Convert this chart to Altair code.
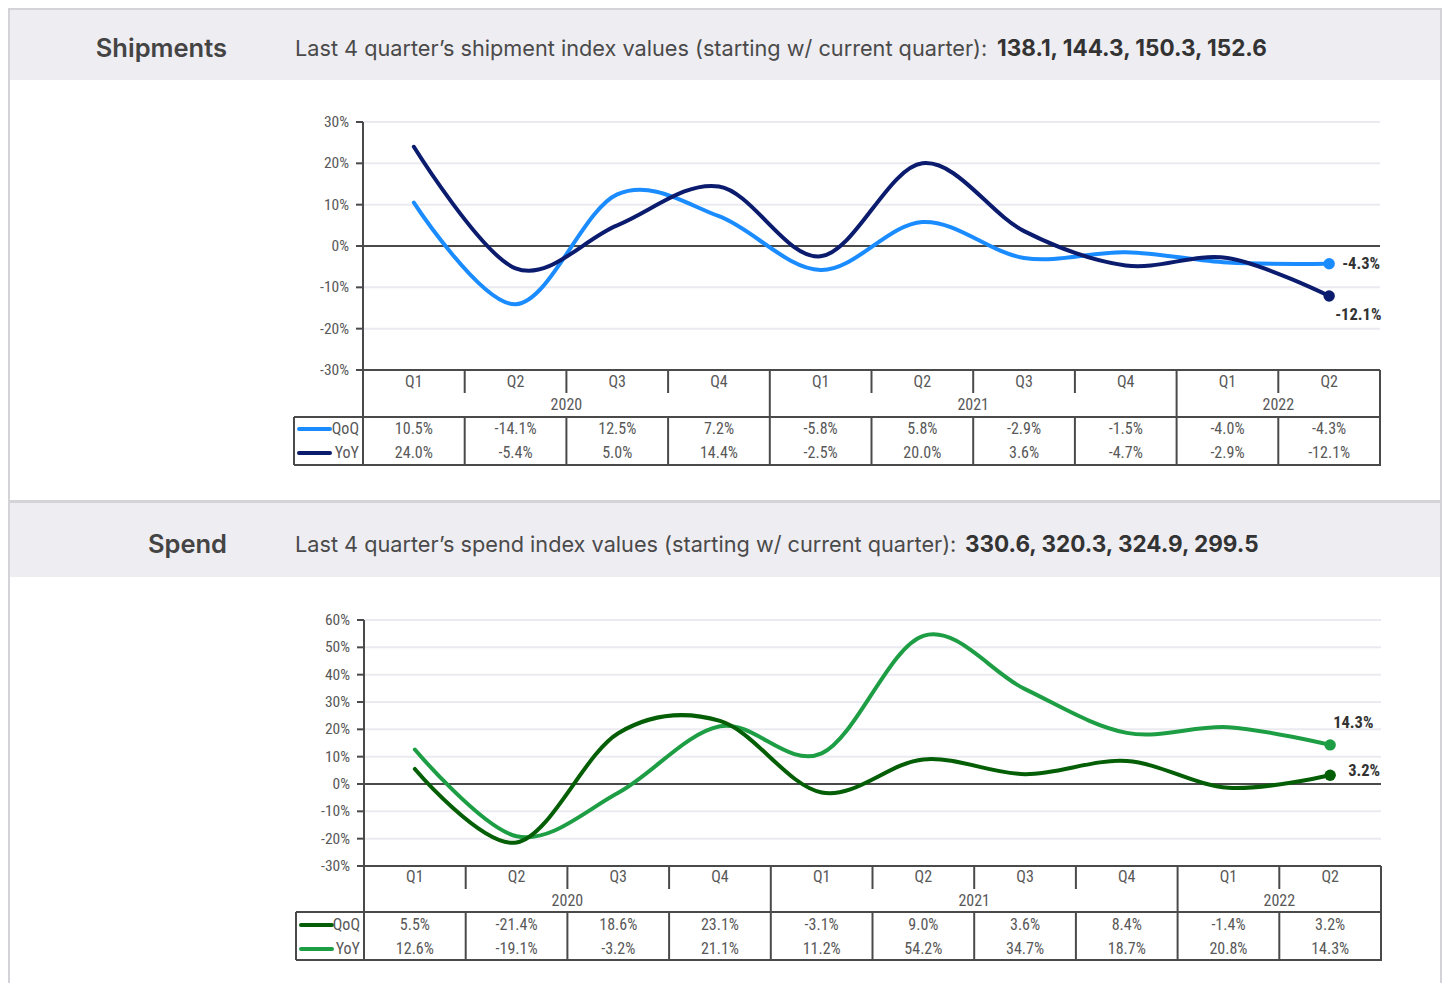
import altair as alt
import pandas as pd

# ---------------- data ----------------
quarters = ["Q1", "Q2", "Q3", "Q4", "Q1", "Q2", "Q3", "Q4", "Q1", "Q2"]
years = ["2020", "2020", "2020", "2020", "2021", "2021", "2021", "2021", "2022", "2022"]

ship_qoq = [10.5, -14.1, 12.5, 7.2, -5.8, 5.8, -2.9, -1.5, -4.0, -4.3]
ship_yoy = [24.0, -5.4, 5.0, 14.4, -2.5, 20.0, 3.6, -4.7, -2.9, -12.1]
spend_qoq = [5.5, -21.4, 18.6, 23.1, -3.1, 9.0, 3.6, 8.4, -1.4, 3.2]
spend_yoy = [12.6, -19.1, -3.2, 21.1, 11.2, 54.2, 34.7, 18.7, 20.8, 14.3]

ship_ticks = [-30, -20, -10, 0, 10, 20, 30]
spend_ticks = [-30, -20, -10, 0, 10, 20, 30, 40, 50, 60]

ship_title = "Shipments"
ship_sub = "Last 4 quarter\u2019s shipment index values (starting w/ current quarter): "
ship_bold = "138.1, 144.3, 150.3, 152.6"
spend_title = "Spend"
spend_sub = "Last 4 quarter\u2019s spend index values (starting w/ current quarter): "
spend_bold = "330.6, 320.3, 324.9, 299.5"

series_names = ["QoQ", "YoY"]

# ---------------- style ----------------
W = 1434
FONT_HEAD = "Inter, Lato, 'Open Sans', sans-serif"
FONT_NUM = "'Liberation Sans Narrow', 'Roboto Condensed', 'DejaVu Sans Condensed', 'Arial Narrow', sans-serif"
GRID = "#EBEAF0"
DARK = "#4a4a4a"
BAND = "#EEEDF2"
BORDER = "#D4D4D8"
TXT = "#585858"

one = pd.DataFrame({"a": [0]})


def vrect(x, x2, y, y2, color):
    return alt.Chart(one).mark_rect(color=color).encode(
        x=alt.value(x), x2=alt.value(x2), y=alt.value(y), y2=alt.value(y2))


def hline(x, x2, y, color=DARK, w=2):
    return alt.Chart(one).mark_rule(color=color, strokeWidth=w).encode(
        x=alt.value(x), x2=alt.value(x2), y=alt.value(y))


def section(title, sub, bold, qoq, yoy, ticks, c_qoq, c_yoy, g, lab):
    df = pd.DataFrame({
        "idx": list(range(len(quarters))),
        "q": quarters,
        "year": years,
        "qoq": qoq,
        "yoy": yoy,
        "qoq_lbl": [f"{v:.1f}%" for v in qoq],
        "yoy_lbl": [f"{v:.1f}%" for v in yoy],
    })
    last = df.tail(1)
    xs = alt.Scale(domain=[-0.5, len(quarters) - 0.5], range=[g["x0"], g["x1"]])
    ys = alt.Scale(domain=[min(ticks), max(ticks)], range=[g["y_bot"], g["y_top"]])

    tdf = pd.DataFrame({"t": ticks, "tl": [f"{t}%" for t in ticks]})
    grid_df = tdf[(tdf.t != 0) & (tdf.t != min(ticks))]
    dark_df = tdf[(tdf.t == 0) | (tdf.t == min(ticks))]

    b_rows = []
    for i in range(len(quarters) + 1):
        if i == 0 or i == len(quarters):
            kind = "edge"
        elif years[i] != years[i - 1]:
            kind = "year"
        else:
            kind = "q"
        b_rows.append({"b": i - 0.5, "kind": kind})
    bdf = pd.DataFrame(b_rows)
    bq = bdf[bdf.kind == "q"]
    bfull = bdf[bdf.kind != "q"]

    ydf = df.groupby("year", as_index=False)["idx"].mean()

    layers = []
    layers.append(vrect(0, W, 0, g["H"], "white"))
    layers.append(vrect(0, W, g["band"][0], g["band"][1], BAND))
    layers.append(vrect(0, W, g["top"][0], g["top"][1], BORDER))
    layers.append(vrect(0, 2, 0, g["H"], BORDER))
    layers.append(vrect(W - 2, W, 0, g["H"], BORDER))

    # header texts
    layers.append(alt.Chart(one).mark_text(
        align="right", baseline="middle", font=FONT_HEAD, fontSize=25.5,
        fontWeight=600, color="#444444").encode(
        x=alt.value(g["title_x"]), y=alt.value(g["head_y"]), text=alt.value(title)))
    layers.append(alt.Chart(one).mark_text(
        align="left", baseline="middle", font=FONT_HEAD, fontSize=21.7,
        fontWeight=400, color="#4a4a4a").encode(
        x=alt.value(g["sub_x"]), y=alt.value(g["head_y"]), text=alt.value(sub)))
    layers.append(alt.Chart(one).mark_text(
        align="left", baseline="middle", font=FONT_HEAD, fontSize=22.5,
        fontWeight=700, color="#333333").encode(
        x=alt.value(g["bold_x"]), y=alt.value(g["head_y"]), text=alt.value(bold)))

    # grid + axis
    layers.append(alt.Chart(grid_df).mark_rule(color=GRID, strokeWidth=2).encode(
        y=alt.Y("t:Q", scale=ys, axis=None),
        x=alt.value(g["x0"]), x2=alt.value(g["x1"])))
    layers.append(alt.Chart(dark_df).mark_rule(color=DARK, strokeWidth=2).encode(
        y=alt.Y("t:Q", scale=ys, axis=None),
        x=alt.value(g["x0"]), x2=alt.value(g["x1"])))
    layers.append(alt.Chart(tdf).mark_rule(color=DARK, strokeWidth=2).encode(
        y=alt.Y("t:Q", scale=ys, axis=None),
        x=alt.value(g["x0"] - 7), x2=alt.value(g["x0"])))
    layers.append(alt.Chart(tdf).mark_text(
        align="right", baseline="middle", font=FONT_NUM, fontSize=15.5, color=TXT).encode(
        y=alt.Y("t:Q", scale=ys, axis=None),
        x=alt.value(g["x0"] - 14), text="tl:N"))
    layers.append(alt.Chart(one).mark_rule(color=DARK, strokeWidth=2).encode(
        x=alt.value(g["x0"]), y=alt.value(g["y_top"]), y2=alt.value(g["dt_bot"])))

    # table lines
    layers.append(alt.Chart(bq).mark_rule(color=DARK, strokeWidth=2).encode(
        x=alt.X("b:Q", scale=xs, axis=None),
        y=alt.value(g["y_bot"]), y2=alt.value(g["tick_bot"])))
    layers.append(alt.Chart(bq).mark_rule(color=DARK, strokeWidth=2).encode(
        x=alt.X("b:Q", scale=xs, axis=None),
        y=alt.value(g["xt_bot"]), y2=alt.value(g["dt_bot"])))
    layers.append(alt.Chart(bfull).mark_rule(color=DARK, strokeWidth=2).encode(
        x=alt.X("b:Q", scale=xs, axis=None),
        y=alt.value(g["y_bot"]), y2=alt.value(g["dt_bot"])))
    layers.append(hline(g["leg_left"], g["x1"] + 1, g["xt_bot"]))
    layers.append(hline(g["leg_left"], g["x1"] + 1, g["dt_bot"]))
    layers.append(alt.Chart(one).mark_rule(color=DARK, strokeWidth=2).encode(
        x=alt.value(g["leg_left"]), y=alt.value(g["xt_bot"]), y2=alt.value(g["dt_bot"])))

    # table texts
    txt = dict(align="center", baseline="middle", font=FONT_NUM, fontSize=16, color=TXT)
    layers.append(alt.Chart(df).mark_text(**txt).encode(
        x=alt.X("idx:Q", scale=xs, axis=None), y=alt.value(g["q_y"]), text="q:N"))
    layers.append(alt.Chart(ydf).mark_text(**txt).encode(
        x=alt.X("idx:Q", scale=xs, axis=None), y=alt.value(g["yr_y"]), text="year:N"))
    layers.append(alt.Chart(df).mark_text(**txt).encode(
        x=alt.X("idx:Q", scale=xs, axis=None), y=alt.value(g["r1_y"]), text="qoq_lbl:N"))
    layers.append(alt.Chart(df).mark_text(**txt).encode(
        x=alt.X("idx:Q", scale=xs, axis=None), y=alt.value(g["r2_y"]), text="yoy_lbl:N"))

    # legend column
    for name, col, ry in [(series_names[0], c_qoq, g["r1_y"]), (series_names[1], c_yoy, g["r2_y"])]:
        layers.append(alt.Chart(one).mark_rule(color=col, strokeWidth=4, strokeCap="round").encode(
            x=alt.value(g["leg_left"] + 5), x2=alt.value(g["leg_left"] + 36), y=alt.value(ry)))
        layers.append(alt.Chart(one).mark_text(
            align="right", baseline="middle", font=FONT_NUM, fontSize=16, color=TXT).encode(
            x=alt.value(g["x0"] - 4), y=alt.value(ry), text=alt.value(name)))

    # lines
    spec = {"qoq": c_qoq, "yoy": c_yoy}
    for key in g["order"]:
        col = spec[key]
        layers.append(alt.Chart(df).mark_line(
            interpolate="cardinal", strokeWidth=4, color=col, strokeCap="round").encode(
            x=alt.X("idx:Q", scale=xs, axis=None),
            y=alt.Y(f"{key}:Q", scale=ys, axis=None)))
        layers.append(alt.Chart(last).mark_circle(size=130, opacity=1, color=col).encode(
            x=alt.X("idx:Q", scale=xs, axis=None),
            y=alt.Y(f"{key}:Q", scale=ys, axis=None)))
        dx, dy = lab[key]
        layers.append(alt.Chart(last).mark_text(
            align="left", baseline="middle", dx=dx, dy=dy, font=FONT_NUM,
            fontSize=16.5, fontWeight="bold", color="#333333").encode(
            x=alt.X("idx:Q", scale=xs, axis=None),
            y=alt.Y(f"{key}:Q", scale=ys, axis=None),
            text=f"{key}_lbl:N"))

    return alt.layer(*layers).properties(width=W, height=g["H"])


g1 = dict(H=492, band=(0, 72), top=(0, 2), head_y=41, title_x=219, sub_x=287, bold_x=989,
          x0=355, x1=1372, y_top=114, y_bot=362, tick_bot=385, xt_bot=409, dt_bot=457,
          leg_left=286, q_y=374, yr_y=397, r1_y=421, r2_y=445, order=["qoq", "yoy"])
g2 = dict(H=483, band=(3, 77), top=(0, 3), head_y=45, title_x=219, sub_x=287, bold_x=957,
          x0=356, x1=1373, y_top=120, y_bot=366, tick_bot=389, xt_bot=412, dt_bot=460,
          leg_left=288, q_y=377, yr_y=401, r1_y=425, r2_y=449, order=["yoy", "qoq"])

sec1 = section(ship_title, ship_sub, ship_bold, ship_qoq, ship_yoy, ship_ticks,
               "#1A8CFF", "#0B1C6E", g1, {"qoq": (13, 0), "yoy": (6, 19)})
sec2 = section(spend_title, spend_sub, spend_bold, spend_qoq, spend_yoy, spend_ticks,
               "#035E05", "#1E9E44", g2, {"qoq": (18, -4), "yoy": (3, -22)})

chart = alt.vconcat(sec1, sec2, spacing=0).properties(padding=0).configure_view(stroke=None)

chart.save("out.html", embed_options={"renderer": "svg", "actions": False})
